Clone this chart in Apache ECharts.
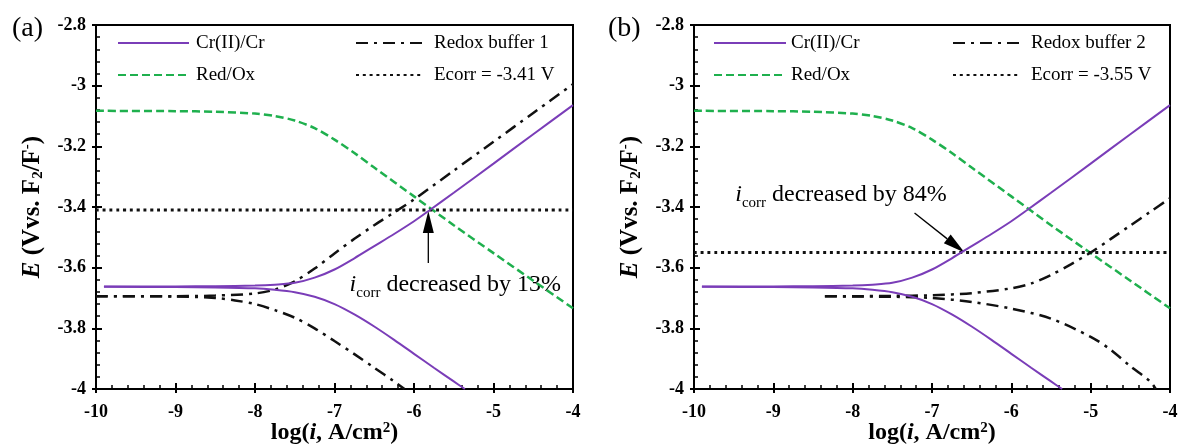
<!DOCTYPE html>
<html>
<head>
<meta charset="utf-8">
<script src="https://cdn.jsdelivr.net/npm/echarts@6/dist/echarts.min.js"></script>
<style>
html,body{margin:0;padding:0;background:#fff;}
#chart{width:1180px;height:446px;}
</style>
</head>
<body>
<div id="chart"></div>
<script>
// ---------- data (log i, E) ----------
const xTickLabels = ['-10','-9','-8','-7','-6','-5','-4'];
const yTickLabels = ['-4','-3.8','-3.6','-3.4','-3.2','-3','-2.8'];
const panelLabels = ['(a)', '(b)'];

const crAnodic = [[-9.9,-3.662],[-9,-3.662],[-8.5,-3.661],[-8,-3.659],[-7.75,-3.656],[-7.5,-3.65],[-7.25,-3.633],[-7,-3.606],[-6.75,-3.569],[-6.5,-3.529],[-6.25,-3.489],[-6,-3.447],[-5.8,-3.41],[-5.5,-3.353],[-5,-3.257],[-4.5,-3.16],[-4,-3.064]];
const crCathodic = [[-9.9,-3.663],[-9,-3.664],[-8.5,-3.665],[-8,-3.668],[-7.75,-3.673],[-7.5,-3.681],[-7.25,-3.696],[-7,-3.72],[-6.75,-3.754],[-6.5,-3.794],[-6.25,-3.838],[-6,-3.884],[-5.75,-3.93],[-5.5,-3.975],[-5.36,-4.0]];
const redOx = [[-10,-3.083],[-9,-3.084],[-8.5,-3.086],[-8,-3.092],[-7.75,-3.1],[-7.5,-3.115],[-7.25,-3.14],[-7,-3.178],[-6.75,-3.222],[-6.5,-3.27],[-6,-3.365],[-5.5,-3.46],[-5,-3.552],[-4.5,-3.643],[-4,-3.734]];
const buffer1Anodic = [[-10,-3.694],[-9,-3.694],[-8.5,-3.692],[-8,-3.685],[-7.75,-3.672],[-7.5,-3.645],[-7.25,-3.603],[-7,-3.553],[-6.75,-3.505],[-6.5,-3.46],[-6.25,-3.418],[-6,-3.375],[-5.5,-3.28],[-5,-3.185],[-4.5,-3.09],[-4,-2.995]];
const buffer1Cathodic = [[-10,-3.694],[-9,-3.695],[-8.5,-3.70],[-8.25,-3.708],[-8,-3.72],[-7.75,-3.74],[-7.5,-3.765],[-7.25,-3.80],[-7,-3.842],[-6.75,-3.885],[-6.5,-3.93],[-6.25,-3.975],[-6.12,-4.0]];
const buffer2Anodic = [[-8.35,-3.694],[-8,-3.694],[-7.5,-3.693],[-7,-3.691],[-6.5,-3.684],[-6,-3.668],[-5.75,-3.652],[-5.5,-3.624],[-5.25,-3.589],[-5,-3.55],[-4.75,-3.506],[-4.5,-3.461],[-4.25,-3.416],[-4,-3.371]];
const buffer2Cathodic = [[-8.35,-3.694],[-8,-3.695],[-7.5,-3.696],[-7,-3.70],[-6.5,-3.713],[-6,-3.735],[-5.5,-3.768],[-5,-3.828],[-4.75,-3.87],[-4.5,-3.925],[-4.25,-3.975],[-4.18,-4.0]];
const ecorrA = [[-10,-3.41],[-4,-3.41]];
const ecorrB = [[-10,-3.55],[-4,-3.55]];

// annotations: text anchor [x, y], arrow [x1,y1,x2,y2]
const noteA = {pct:'13%', anchor:[-6.81,-3.655], arrow:[-5.82,-3.585,-5.82,-3.413]};
const noteB = {pct:'84%', anchor:[-9.48,-3.36], arrow:[-7.22,-3.42,-6.59,-3.55]};

// ---------- styles ----------
const SERIF = 'Liberation Serif';
const PURPLE = '#7A3DB8';
const GREEN = '#1FB04E';
const styles = {
  cr:  {color:PURPLE, width:2, type:'solid'},
  ox:  {color:GREEN, width:2.5, type:[8,4]},
  buf: {color:'#111', width:2.5, type:[12,6,3,6]},
  ec:  {color:'#111', width:3, type:[3,3.8]}
};

function line(name, data, st, idx) {
  return {type:'line', name, data, xAxisIndex:idx, yAxisIndex:idx, showSymbol:false, symbol:'none',
    smooth:0.3, silent:true, animation:false,
    lineStyle:{color:st.color, width:st.width, type:st.type}, itemStyle:{color:st.color}};
}

function arrowSeries(note, idx) {
  return {type:'custom', xAxisIndex:idx, yAxisIndex:idx, silent:true, animation:false,
    data:[note.arrow], encode:{x:[0,2], y:[1,3]},
    renderItem(params, api){
      const p1 = api.coord([api.value(0), api.value(1)]);
      const p2 = api.coord([api.value(2), api.value(3)]);
      const dx=p2[0]-p1[0], dy=p2[1]-p1[1], L=Math.hypot(dx,dy);
      const ux=dx/L, uy=dy/L, hl=22, hw=5.5;
      const bx=p2[0]-ux*hl, by=p2[1]-uy*hl;
      return {type:'group', children:[
        {type:'line', shape:{x1:p1[0],y1:p1[1],x2:bx,y2:by}, style:{stroke:'#000', lineWidth:1.3}},
        {type:'polygon', shape:{points:[[p2[0],p2[1]],[bx-uy*hw,by+ux*hw],[bx+uy*hw,by-ux*hw]]}, style:{fill:'#000'}}
      ]};
    }};
}

function textSeries(note, idx) {
  return {type:'custom', xAxisIndex:idx, yAxisIndex:idx, silent:true, animation:false,
    data:[note.anchor], encode:{x:0, y:1},
    renderItem(params, api){
      const p = api.coord([api.value(0), api.value(1)]);
      return {type:'text', x:p[0], y:p[1], style:{
        text:'{i|i}{s|corr}{t| decreased by '+note.pct+'}',
        align:'left', verticalAlign:'middle',
        rich:{
          i:{fontFamily:SERIF, fontStyle:'italic', fontSize:24, lineHeight:32, verticalAlign:'middle', fill:'#000'},
          s:{fontFamily:SERIF, fontSize:15, lineHeight:32, verticalAlign:'bottom', fill:'#000'},
          t:{fontFamily:SERIF, fontSize:24, lineHeight:32, verticalAlign:'middle', fill:'#000'}
        }}};
    }};
}

const grids = [
  {left:96, top:25, width:477, height:364},
  {left:694, top:25, width:476, height:364}
];

const tickFont = {fontFamily:SERIF, fontWeight:'bold', fontSize:18, color:'#000'};
function fmtX(v){ const s=String(Math.round(v)); return xTickLabels.includes(s)? s : ''; }
function fmtY(v){ const s=String(Math.round(v*10)/10); return yTickLabels.includes(s)? s : ''; }

const xAxes = [], yAxes = [];
const gridOpts = [];
grids.forEach((g,i)=>{
  gridOpts.push(Object.assign({show:true, borderColor:'#000', borderWidth:2, backgroundColor:'transparent', containLabel:false, outerBoundsMode:'none'}, g));
  gridOpts.push(Object.assign({show:false, containLabel:false, outerBoundsMode:'none'}, g)); // overlay for outer tick stubs
});
for (let p=0;p<2;p++){
  const gMain = p*2;
  xAxes.push({type:'value', gridIndex:gMain, min:-10, max:-4, interval:1,
    axisLine:{lineStyle:{color:'#000', width:2}}, splitLine:{show:false},
    axisTick:{inside:true, length:6, lineStyle:{color:'#000', width:2}},
    minorTick:{show:true, splitNumber:5, length:4, lineStyle:{color:'#000', width:1.5}},
    axisLabel:Object.assign({margin:14, formatter:fmtX}, tickFont),
    name:'{a|log(}{b|i}{a|, A/cm}{c|2}{a|)}', nameLocation:'middle', nameGap:32, nameMoveOverlap:false,
    nameTextStyle:{rich:{
      a:{fontFamily:SERIF, fontWeight:'bold', fontSize:24, color:'#000'},
      b:{fontFamily:SERIF, fontWeight:'bold', fontStyle:'italic', fontSize:24, color:'#000'},
      c:{fontFamily:SERIF, fontWeight:'bold', fontSize:15, color:'#000', verticalAlign:'top', lineHeight:24}
    }}});
  yAxes.push({type:'value', gridIndex:gMain, min:-4, max:-2.8, interval:0.2,
    axisLine:{lineStyle:{color:'#000', width:2}}, splitLine:{show:false},
    axisTick:{inside:true, length:6, lineStyle:{color:'#000', width:2}},
    minorTick:{show:true, splitNumber:5, length:4, lineStyle:{color:'#000', width:1.5}},
    axisLabel:Object.assign({margin:10, formatter:fmtY}, tickFont),
    name:'{e|E}{a| (Vvs. F}{s|2}{a|/F}{u|-}{a|)}', nameLocation:'middle', nameRotate:90, nameGap:50, nameMoveOverlap:false,
    nameTextStyle:{rich:{
      e:{fontFamily:SERIF, fontWeight:'bold', fontStyle:'italic', fontSize:25, color:'#000'},
      a:{fontFamily:SERIF, fontWeight:'bold', fontSize:25, color:'#000'},
      s:{fontFamily:SERIF, fontWeight:'bold', fontSize:15, color:'#000', verticalAlign:'bottom', lineHeight:26},
      u:{fontFamily:SERIF, fontWeight:'bold', fontSize:15, color:'#000', verticalAlign:'top', lineHeight:26}
    }}});
}
// overlay axes (outer part of major ticks)
for (let p=0;p<2;p++){
  const gOver = p*2+1;
  xAxes.push({type:'value', gridIndex:gOver, min:-10, max:-4, interval:1,
    axisLine:{show:false}, splitLine:{show:false}, axisLabel:{show:false},
    axisTick:{inside:false, length:4, lineStyle:{color:'#000', width:2}}});
  yAxes.push({type:'value', gridIndex:gOver, min:-4, max:-2.8, interval:0.2,
    axisLine:{show:false}, splitLine:{show:false}, axisLabel:{show:false},
    axisTick:{inside:false, length:4, lineStyle:{color:'#000', width:2}}});
}

const series = [
  line('Red/Ox', redOx, styles.ox, 0),
  line('Redox buffer 1', buffer1Anodic, styles.buf, 0),
  line('Redox buffer 1', buffer1Cathodic, styles.buf, 0),
  line('Ecorr = -3.41 V', ecorrA, styles.ec, 0),
  line('Cr(II)/Cr', crAnodic, styles.cr, 0),
  line('Cr(II)/Cr', crCathodic, styles.cr, 0),
  arrowSeries(noteA, 0),
  textSeries(noteA, 0),
  line('Red/Ox', redOx, styles.ox, 1),
  line('Redox buffer 2', buffer2Anodic, styles.buf, 1),
  line('Redox buffer 2', buffer2Cathodic, styles.buf, 1),
  line('Ecorr = -3.55 V', ecorrB, styles.ec, 1),
  line('Cr(II)/Cr', crAnodic, styles.cr, 1),
  line('Cr(II)/Cr', crCathodic, styles.cr, 1),
  arrowSeries(noteB, 1),
  textSeries(noteB, 1)
];

function legend(names, left, w, pad){
  return {data:names, orient:'vertical', left, top:27, itemWidth:w, itemHeight:14, itemGap:10,
    selectedMode:false, itemStyle:{color:'rgba(0,0,0,0)', borderWidth:0, opacity:0},
    textStyle:{fontFamily:SERIF, fontSize:19, color:'#000', padding:[0,0,0,pad], lineHeight:22}};
}

const chart = echarts.init(document.getElementById('chart'), null, {renderer:'canvas'});
chart.setOption({
  animation:false,
  backgroundColor:'#fff',
  title:[
    {text:panelLabels[0], left:7, top:10, textStyle:{fontFamily:SERIF, fontWeight:'normal', fontSize:28, color:'#000'}},
    {text:panelLabels[1], left:603, top:10, textStyle:{fontFamily:SERIF, fontWeight:'normal', fontSize:28, color:'#000'}}
  ],
  legend:[
    legend(['Cr(II)/Cr','Red/Ox'], 112, 71, 2),
    legend(['Redox buffer 1','Ecorr = -3.41 V'], 350, 67, 6),
    legend(['Cr(II)/Cr','Red/Ox'], 708, 72, 0),
    legend(['Redox buffer 2','Ecorr = -3.55 V'], 947, 66, 7)
  ],
  grid:gridOpts,
  xAxis:xAxes,
  yAxis:yAxes,
  series
});
</script>
</body>
</html>
